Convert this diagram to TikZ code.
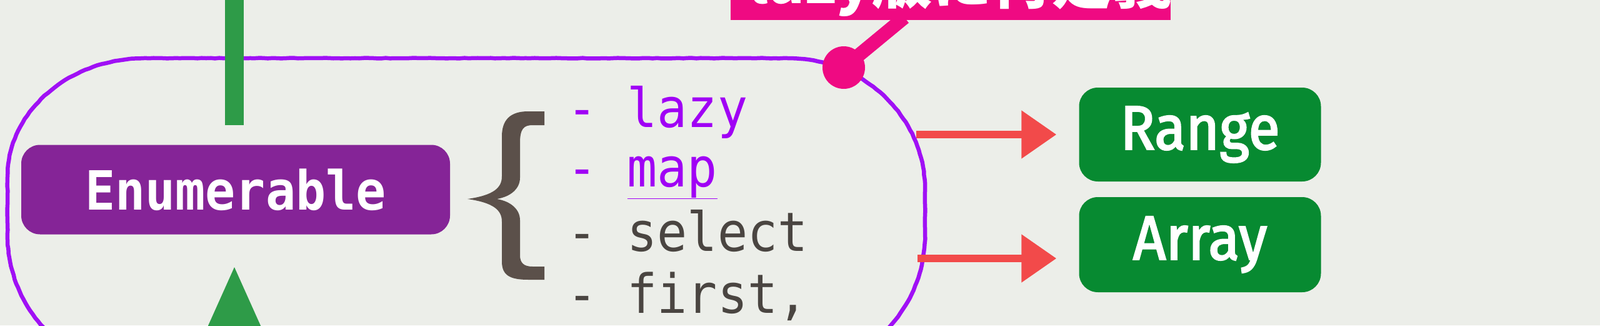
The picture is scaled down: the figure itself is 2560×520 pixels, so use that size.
\documentclass[tikz,border=0pt]{standalone}
\usepackage{fontspec}
\usepackage{graphicx}
\setmonofont{DejaVu Sans Mono}
\newfontfamily\cjkfont{Noto Sans CJK JP}
\newfontfamily\boxfont{Fira Sans}[FakeBold=2.5]
\usetikzlibrary{arrows.meta,decorations.pathmorphing}
\definecolor{bg}{HTML}{ECEEE9}
\definecolor{enumpurple}{HTML}{852497}
\definecolor{violet}{HTML}{A000F5}
\definecolor{outline}{HTML}{A010F5}
\definecolor{darktext}{HTML}{4A4541}
\definecolor{bracecol}{HTML}{5B504A}
\definecolor{boxgreen}{HTML}{078A31}
\definecolor{linegreen}{HTML}{2E9B48}
\definecolor{arrowred}{HTML}{F24A4A}
\definecolor{pink}{HTML}{EF0A82}
\newcommand{\tallish}[1]{\scalebox{1}[1.08]{#1}}
\tikzset{
  classbox/.style={rounded corners=30pt, inner sep=0pt, text=white},
  listline/.style={anchor=base west, inner sep=0pt, font=\fontsize{80}{80}\selectfont\ttfamily},
  redarrow/.style={draw=arrowred, line width=12pt, -{Triangle[length=56pt,width=74pt]}, shorten >=36pt},
  pinkline/.style={draw=pink, line width=22pt},
}
\begin{document}
\begin{tikzpicture}[x=1pt,y=-1pt]
\useasboundingbox (0,0) rectangle (2560,520);
\fill[bg] (0,0) rectangle (2560,520);

% purple outline (slightly rough)
\draw[outline, line width=6.5pt, line join=round, decorate, decoration={random steps, segment length=7pt, amplitude=0.4pt}]
  (1260,93) .. controls (1381.5,93) and (1480,187) .. (1480,303)
  -- (1480,375) .. controls (1480,496.5) and (1381.5,595) .. (1260,595)
  -- (232,595) .. controls (110.5,595) and (12,496.5) .. (12,375)
  -- (12,283) .. controls (12,178) and (110.5,93) .. (232,93) -- cycle;

% green connector from above
\coordinate (gtop) at (375,-10);
\coordinate (gbot) at (375,200);
\draw[linegreen, line width=30pt] (gtop) -- (gbot);

% green inheritance triangle
\fill[linegreen] (375,427) -- (428,545) -- (322,545) -- cycle;

% Enumerable
\node[classbox, fill=enumpurple, minimum width=686pt, minimum height=143pt,
      font=\fontsize{80}{80}\selectfont\ttfamily\bfseries] (enum) at (377,303) {\tallish{Enumerable}};

% brace
\fill[bracecol] (871,178) -- (845,178) .. controls (816,178) and (803,192) .. (803,218)
  -- (803,282) .. controls (803,300) and (790,312) .. (748,318)
  .. controls (790,324) and (803,336) .. (803,354)
  -- (803,418) .. controls (803,440) and (816,447) .. (845,447) -- (871,447)
  -- (871,426) -- (852,426) .. controls (838,426) and (832,420) .. (832,408)
  -- (832,352) .. controls (832,335) and (818,322) .. (795,318)
  .. controls (818,314) and (832,301) .. (832,284)
  -- (832,228) .. controls (832,206) and (838,200) .. (852,200) -- (871,200) -- cycle;

% list
\node[listline, text=violet] (l1) at (907,203) {\tallish{- lazy}};
\node[listline, text=violet] (l2) at (907,298) {\tallish{- \underline{map}}};
\node[listline, text=darktext] (l3) at (907,401) {\tallish{- select}};
\node[listline, text=darktext] (l4) at (907,500) {\tallish{- first,}};

% Range / Array
\node[classbox, fill=boxgreen, minimum width=387pt, minimum height=150pt,
      font=\fontsize{92}{92}\selectfont\boxfont] (range) at (1920,215) {\tallish{Range}};
\node[classbox, fill=boxgreen, minimum width=387pt, minimum height=152pt,
      font=\fontsize{92}{92}\selectfont\boxfont] (array) at (1920,391) {\tallish{Array}};

\coordinate (a1) at (1466,215);
\coordinate (a2) at (1468,413);
\draw[redarrow] (a1) -- (range.west |- a1);
\draw[redarrow] (a2) -- (array.west |- a2);

% pink callout
\node[circle, fill=pink, minimum size=68pt, inner sep=0pt] (dot) at (1350,108) {};
\coordinate (cstart) at (1447,28);
\draw[pinkline] (cstart) -- (dot.center);
\node[fill=pink, minimum width=704pt, minimum height=160pt, inner sep=0pt, anchor=south west] (jpbox) at (1169,32) {};
\node[anchor=base west, inner sep=0pt, text=white, font=\fontsize{96}{96}\selectfont\cjkfont\bfseries] (jptext) at (1197,5) {lazy版に再定義};
\end{tikzpicture}
\end{document}
